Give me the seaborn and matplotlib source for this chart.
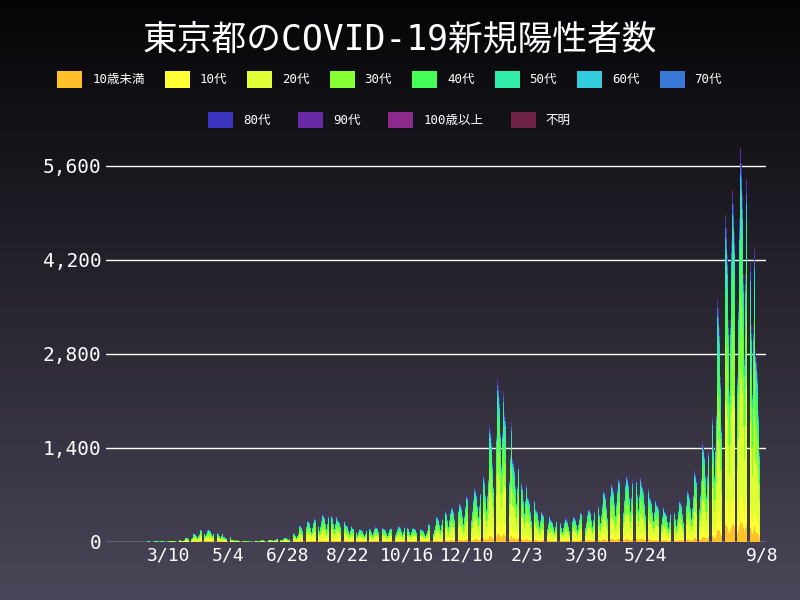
import numpy as np
import pandas as pd
import matplotlib
matplotlib.use("Agg")
import matplotlib.pyplot as plt
import seaborn as sns
from matplotlib.colors import LinearSegmentedColormap

sns.set_theme(style="dark")
plt.rcParams['font.family'] = ['DejaVu Sans Mono', 'Noto Sans CJK JP']

# weekly average of new cases, each week starting Thursday from 2020-01-16
weekly_avg = [1, 1, 2, 2, 4, 5, 6, 8, 10, 20, 50,
              100, 150, 150, 110, 60, 25, 10, 6, 10,
              20, 25, 35, 50, 110, 200, 260, 280, 330,
              330, 270, 210, 170, 150, 170, 180, 160,
              170, 190, 180, 170, 150, 220, 310, 390, 420,
              470, 560, 650, 840, 1400, 1950, 1550, 1000, 750,
              550, 400, 340, 270, 260, 280, 310, 360,
              400, 490, 620, 700, 770, 800, 850, 700, 550,
              460, 370, 410, 500, 620, 850, 1200, 1700, 2900,
              3900, 4200, 4700, 3800, 2300]
# day-of-week factors (Thu..Wed)
weekday_factor = [1.25, 1.2, 1.1, 0.85, 0.6, 0.85, 1.15]

groups = ['10歳未満', '10代', '20代', '30代', '40代', '50代', '60代',
          '70代', '80代', '90代', '100歳以上', '不明']
shares = [0.05, 0.08, 0.30, 0.19, 0.15, 0.11, 0.05, 0.03, 0.025, 0.008, 0.0005, 0.006]
colors = ['#ffc02a', '#ffff33', '#ddff33', '#88ff33', '#44ff55', '#33eeaa',
          '#33ccdd', '#3a78d8', '#3a34c0', '#6a2aa8', '#8a2a8a', '#6e2248']
tick_labels = ['3/10', '5/4', '6/28', '8/22', '10/16', '12/10', '2/3', '3/30', '5/24', '9/8']

dates = pd.date_range('2020-01-16', '2021-09-08')
totals = np.array([weekly_avg[i // 7] * weekday_factor[i % 7] for i in range(len(dates))])
x = np.arange(len(dates))

fig = plt.figure(figsize=(8, 6), dpi=100)
bg = fig.add_axes([0, 0, 1, 1])
grad = np.linspace(0, 1, 256).reshape(-1, 1)
cmap = LinearSegmentedColormap.from_list('bg', ['#050507', '#4a4558'])
bg.imshow(grad, aspect='auto', cmap=cmap, extent=[0, 1, 0, 1], origin='upper')
bg.axis('off')

ax = fig.add_axes([0.133, 0.097, 0.825, 0.66])
ax.set_facecolor('none')
bottom = np.zeros(len(x))
for g, s, c in zip(groups, shares, colors):
    v = totals * s
    ax.bar(x, v, bottom=bottom, width=0.8, color=c, linewidth=0, label=g)
    bottom += v

ax.set_ylim(0, 5900)
ax.set_xlim(-3, len(x) + 3)
ax.set_yticks([0, 1400, 2800, 4200, 5600])
ax.set_yticklabels(['0', '1,400', '2,800', '4,200', '5,600'], color='white', fontsize=14)
start = (pd.Timestamp('2020-03-10') - dates[0]).days
ticks = [start + 55 * k for k in range(9)] + [len(x) - 1]
ax.set_xticks(ticks)
ax.set_xticklabels(tick_labels, color='white', fontsize=13)
ax.grid(axis='y', color='white', linewidth=1)
ax.grid(axis='x', visible=False)
for s in ax.spines.values():
    s.set_visible(False)
ax.tick_params(length=0)

fig.text(0.5, 0.935, '東京都のCOVID-19新規陽性者数', color='white', fontsize=25,
         ha='center', va='center')
handles, labels = ax.get_legend_handles_labels()
fig.legend(handles[:8], labels[:8], loc='center', bbox_to_anchor=(0.487, 0.868),
           ncol=8, frameon=False, fontsize=9, labelcolor='white',
           handlelength=2, handleheight=1.7, columnspacing=1.6)
fig.legend(handles[8:], labels[8:], loc='center', bbox_to_anchor=(0.487, 0.8),
           ncol=4, frameon=False, fontsize=9, labelcolor='white',
           handlelength=2, handleheight=1.7, columnspacing=2.2)
fig.savefig('out.png', dpi=100)
